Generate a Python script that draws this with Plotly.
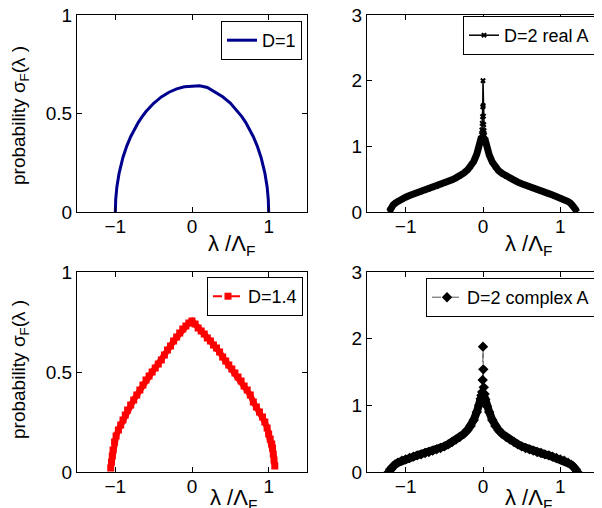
import numpy as np
import plotly.graph_objects as go

# D=1 (semicircle)
x_d1 = [-1, -0.995, -0.98, -0.97, -0.95, -0.9, -0.85, -0.8, -0.75, -0.7, -0.65, -0.6, -0.5, -0.4, -0.3, -0.2, -0.1, 0,
        0.1, 0.2, 0.3, 0.4, 0.5, 0.6, 0.65, 0.7, 0.75, 0.8, 0.85, 0.9, 0.95, 0.97, 0.98, 0.995, 1]
y_d1 = [0, 0.064, 0.127, 0.155, 0.199, 0.278, 0.336, 0.382, 0.421, 0.455, 0.484, 0.51, 0.552, 0.584, 0.608, 0.625, 0.636, 0.639,
        0.641, 0.632, 0.61, 0.585, 0.553, 0.51, 0.484, 0.455, 0.421, 0.382, 0.336, 0.278, 0.199, 0.155, 0.127, 0.064, 0]

# D=1.4
x_d14 = [-1.06, -1.05, -1.04, -1.03, -1.01, -0.99, -0.96, -0.93, -0.90, -0.87, -0.84, -0.80, -0.76, -0.72, -0.68, -0.64,
         -0.60, -0.56, -0.52, -0.48, -0.44, -0.40, -0.36, -0.32, -0.28, -0.24, -0.20, -0.16, -0.12, -0.08, -0.04, 0.0,
         0.04, 0.08, 0.12, 0.16, 0.20, 0.24, 0.28, 0.32, 0.36, 0.40, 0.44, 0.48, 0.52, 0.56, 0.60, 0.64,
         0.68, 0.72, 0.76, 0.80, 0.84, 0.88, 0.92, 0.95, 0.98, 1.00, 1.02, 1.04, 1.05, 1.06, 1.07, 1.08]
y_d14 = [0.02, 0.05, 0.08, 0.11, 0.15, 0.18, 0.21, 0.235, 0.26, 0.285, 0.31, 0.335, 0.36, 0.385, 0.41, 0.435,
         0.46, 0.48, 0.50, 0.52, 0.54, 0.56, 0.585, 0.61, 0.63, 0.655, 0.675, 0.695, 0.715, 0.73, 0.745, 0.755,
         0.74, 0.72, 0.705, 0.69, 0.67, 0.655, 0.635, 0.62, 0.60, 0.575, 0.555, 0.535, 0.515, 0.495, 0.475, 0.455,
         0.43, 0.41, 0.385, 0.35, 0.325, 0.30, 0.275, 0.25, 0.22, 0.19, 0.165, 0.14, 0.12, 0.09, 0.06, 0.03]

# D=2 real A
x_real = [-1.21, -1.2, -1.18, -1.16, -1.13, -1.1, -1.05, -1.0, -0.95, -0.9, -0.85, -0.8, -0.75, -0.7, -0.65, -0.6,
          -0.55, -0.5, -0.45, -0.4, -0.35, -0.3, -0.25, -0.2, -0.16, -0.12, -0.08, -0.05, -0.03, -0.02, -0.015, -0.01,
          -0.006, -0.003, 0,
          0.003, 0.006, 0.01, 0.015, 0.02, 0.03, 0.05, 0.08, 0.12, 0.16, 0.2, 0.25, 0.3, 0.35, 0.4, 0.45, 0.5,
          0.55, 0.6, 0.65, 0.7, 0.75, 0.8, 0.85, 0.9, 0.95, 1.0, 1.05, 1.1, 1.13, 1.16, 1.18, 1.2, 1.21]
y_real = [0.01, 0.04, 0.08, 0.11, 0.14, 0.165, 0.195, 0.225, 0.25, 0.27, 0.29, 0.31, 0.33, 0.35, 0.37, 0.39,
          0.415, 0.44, 0.465, 0.49, 0.52, 0.55, 0.59, 0.64, 0.69, 0.77, 0.88, 1.0, 1.1, 1.18, 1.25, 1.35,
          1.45, 1.6, 2.0,
          1.62, 1.46, 1.33, 1.24, 1.17, 1.09, 0.99, 0.87, 0.76, 0.68, 0.63, 0.585, 0.545, 0.51, 0.48, 0.455, 0.43,
          0.405, 0.385, 0.36, 0.34, 0.32, 0.30, 0.28, 0.26, 0.24, 0.215, 0.19, 0.16, 0.135, 0.105, 0.075, 0.035, 0.005]

# D=2 complex A
x_cplx = [-1.22, -1.2, -1.17, -1.14, -1.1, -1.05, -1.0, -0.95, -0.9, -0.85, -0.8, -0.75, -0.7, -0.65, -0.6, -0.55,
          -0.5, -0.45, -0.4, -0.35, -0.3, -0.25, -0.2, -0.16, -0.12, -0.08, -0.05, -0.03, -0.02, -0.01, -0.004, 0,
          0.004, 0.01, 0.02, 0.03, 0.05, 0.08, 0.12, 0.16, 0.2, 0.25, 0.3, 0.35, 0.4, 0.45, 0.5, 0.55,
          0.6, 0.65, 0.7, 0.75, 0.8, 0.85, 0.9, 0.95, 1.0, 1.05, 1.1, 1.14, 1.17, 1.2, 1.22]
y_cplx = [0.0, 0.04, 0.08, 0.11, 0.14, 0.17, 0.19, 0.21, 0.23, 0.25, 0.265, 0.285, 0.3, 0.32, 0.34, 0.36,
          0.385, 0.415, 0.45, 0.485, 0.525, 0.57, 0.63, 0.69, 0.78, 0.9, 1.0, 1.1, 1.15, 1.2, 1.38, 1.88,
          1.54, 1.27, 1.17, 1.09, 0.99, 0.9, 0.78, 0.69, 0.63, 0.57, 0.525, 0.485, 0.45, 0.415, 0.385, 0.36,
          0.34, 0.32, 0.3, 0.285, 0.265, 0.25, 0.23, 0.21, 0.19, 0.17, 0.14, 0.11, 0.08, 0.04, 0.0]

x_ticks = [-1, 0, 1]
y_ticks_small = [0, 0.5, 1]
y_ticks_big = [0, 1, 2, 3]

FONT = "Liberation Sans, Arial, Helvetica, sans-serif"

# the page body keeps its default 8px margin, so the figure is 8px smaller
# and every position below is given in window pixels and shifted back
OFF = 8
W, H = 602 - OFF, 508 - OFF


def px(x):
    return (x - OFF) / W


def py(y):
    return (H - (y - OFF)) / H


def band(x, y, ymax):
    # dense cloud of samples drawn as a thick line below the cusp
    x = np.array(x)
    y = np.array(y)
    keep = y <= ymax
    return x[keep], y[keep]


fig = go.Figure()

fig.add_trace(go.Scatter(x=x_d1, y=y_d1, mode='lines', name='D=1',
                         line=dict(color='#00008f', width=3), xaxis='x', yaxis='y', legend='legend'))

bx, by = band(x_d14, y_d14, 2)
fig.add_trace(go.Scatter(x=bx, y=by, mode='lines', showlegend=False, hoverinfo='skip',
                         line=dict(color='#ff0000', width=6), xaxis='x3', yaxis='y3'))
fig.add_trace(go.Scatter(x=x_d14, y=y_d14, mode='lines+markers', name='D=1.4',
                         line=dict(color='#ff0000', width=2, dash='dash'),
                         marker=dict(symbol='square', size=7, color='#ff0000'),
                         xaxis='x3', yaxis='y3', legend='legend3'))

bx, by = band(x_real, y_real, 1.1)
fig.add_trace(go.Scatter(x=bx, y=by, mode='lines', showlegend=False, hoverinfo='skip',
                         line=dict(color='black', width=7), xaxis='x2', yaxis='y2'))
fig.add_trace(go.Scatter(x=x_real, y=y_real, mode='lines+markers', name='D=2 real A',
                         line=dict(color='black', width=1.5),
                         marker=dict(symbol='x', size=5, color='black'),
                         xaxis='x2', yaxis='y2', legend='legend2'))

bx, by = band(x_cplx, y_cplx, 1.12)
fig.add_trace(go.Scatter(x=bx, y=by, mode='lines', showlegend=False, hoverinfo='skip',
                         line=dict(color='black', width=8), xaxis='x4', yaxis='y4'))
fig.add_trace(go.Scatter(x=x_cplx, y=y_cplx, mode='lines+markers', name='D=2 complex A',
                         line=dict(color='#555555', width=1, dash='dashdot'),
                         marker=dict(symbol='diamond', size=8, color='black'),
                         xaxis='x4', yaxis='y4', legend='legend4'))


def axis(domain, anchor, rng, ticks, standoff):
    return dict(domain=domain, anchor=anchor, range=rng, tickvals=ticks, automargin=False,
                showline=True, linecolor='black', linewidth=1, mirror='ticks',
                ticks='inside', ticklen=5, tickcolor='black', showgrid=False, zeroline=False,
                ticklabelstandoff=standoff, ticklabeloverflow='allow',
                tickfont=dict(size=19, color='black', family=FONT))


xd_left = [px(77), px(307)]
xd_right = [px(367), px(599)]
yd_top = [py(212), py(15)]
yd_bot = [py(472), py(272)]

legend_style = dict(bgcolor='white', bordercolor='black', borderwidth=1,
                    font=dict(size=18, color='black', family=FONT),
                    xanchor='right', yanchor='top', itemwidth=30, tracegroupgap=0)

fig.update_layout(
    width=W, height=H,
    margin=dict(l=0, r=0, t=0, b=0, autoexpand=False),
    paper_bgcolor='white', plot_bgcolor='white',
    font=dict(family=FONT, color='black', size=19),
    xaxis=axis(xd_left, 'y', [-1.5, 1.5], x_ticks, -3),
    yaxis=axis(yd_top, 'x', [0, 1], y_ticks_small, 0),
    xaxis2=axis(xd_right, 'y2', [-1.5, 1.5], x_ticks, -3),
    yaxis2=axis(yd_top, 'x2', [0, 3], y_ticks_big, 0),
    xaxis3=axis(xd_left, 'y3', [-1.5, 1.5], x_ticks, -3),
    yaxis3=axis(yd_bot, 'x3', [0, 1], y_ticks_small, 0),
    xaxis4=axis(xd_right, 'y4', [-1.5, 1.5], x_ticks, -3),
    yaxis4=axis(yd_bot, 'x4', [0, 3], y_ticks_big, 0),
    legend=dict(x=px(302), y=py(21), **legend_style),
    legend2=dict(x=px(595), y=py(16), **legend_style),
    legend3=dict(x=px(303), y=py(277), **legend_style),
    legend4=dict(x=px(595), y=py(278), **legend_style),
    showlegend=True,
)

ylabel = "probability σ<sub>F</sub>(λ )"
xlabel = "λ /Λ<sub>F</sub>"
for yc in [116, 370]:
    fig.add_annotation(text=ylabel, x=px(20), y=py(yc), xref='paper', yref='paper',
                       xanchor='center', yanchor='middle',
                       textangle=-90, showarrow=False, font=dict(size=19))
for xc, yt in [(231, 229), (528, 229), (233, 483), (528, 483)]:
    fig.add_annotation(text=xlabel, x=px(xc), y=py(yt), xref='paper', yref='paper',
                       xanchor='center', yanchor='top', showarrow=False, font=dict(size=22))

fig.write_html("out.html")
